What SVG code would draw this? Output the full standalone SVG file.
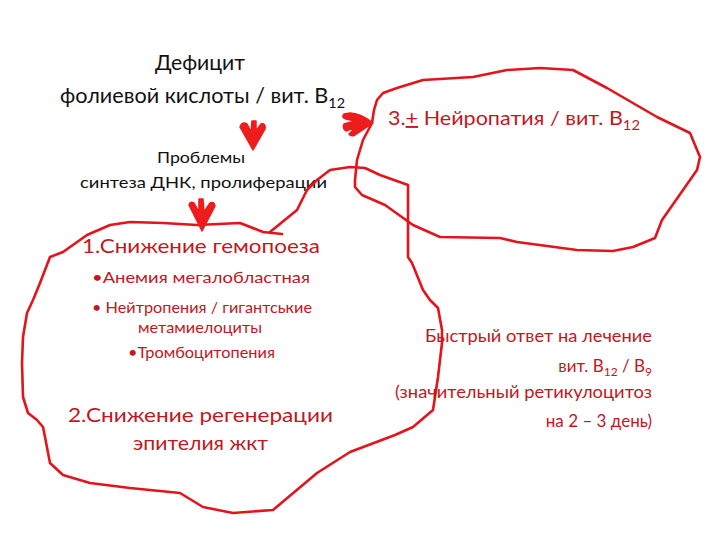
<svg xmlns="http://www.w3.org/2000/svg" width="720" height="540" viewBox="0 0 720 540">
<style>
.blob{fill:none;stroke:#e3141c;stroke-width:2.6;stroke-linejoin:round;stroke-linecap:round}
.arr{fill:#ee1c1c;stroke:#ee1c1c;stroke-width:1.5;stroke-linejoin:round}
.t{font-family:Lato,"Liberation Sans","Noto Sans",sans-serif}
.k{fill:#111}
.r{fill:#c4161c}
</style>
<rect width="720" height="540" fill="#fff"/>
<g id="deficit">
<text class="t k" x="200" y="70" font-size="21" text-anchor="middle" textLength="90" lengthAdjust="spacingAndGlyphs">Дефицит</text>
<text class="t k" x="60" y="103" font-size="21" textLength="285" lengthAdjust="spacingAndGlyphs">фолиевой кислоты / вит. B<tspan font-size="14" dy="5">12</tspan></text>
</g>
<g id="problems">
<text class="t k" x="201" y="163" font-size="16" text-anchor="middle" textLength="88" lengthAdjust="spacingAndGlyphs">Проблемы</text>
<text class="t k" x="80" y="188" font-size="16" textLength="247" lengthAdjust="spacingAndGlyphs">синтеза  ДНК, пролиферации</text>
</g>
<g id="neuropathy">
<path class="blob" d="M374,110 L377,100 L383,93 L397,88 L423,80 L473,77 L507,70 L540,68 L573,70 L607,88 L657,117 L690,133 L700,157 L697,170 L683,190 L662,220 L655,238 L633,247 L613,251 L577,250 L517,242 L500,238 L440,237 L413,225 L385,205 L362,195 L355,187 L355,180 L357,160 L363,140 L372,123 Z"/>
<text class="t r" x="388" y="125" font-size="19" textLength="252" lengthAdjust="spacingAndGlyphs">3.<tspan text-decoration="underline">+</tspan> Нейропатия / вит. B<tspan font-size="13" dy="5">12</tspan></text>
</g>
<g id="hematopoiesis">
<path class="blob" d="M282,234 L263,232 L240,223 L197,225 L163,223 L130,222 L110,225 L87,235 L63,252 L50,257 L40,283 L33,300 L27,313 L23,337 L22,363 L23,397 L28,413 L37,420 L43,427 L45,437 L50,463 L63,475 L90,483 L130,488 L180,493 L203,507 L233,513 L273,510 L317,473 L350,452 L395,435 L413,427 L433,410 L438,377 L442,343 L442,330 L438,308 L430,300 L423,290 L412,263 L408,257 L408,185 L380,175 L365,168 L350,167 L330,170 L317,180 L307,190 L297,210 L270,232"/>
<text class="t r" x="82" y="253" font-size="20" textLength="238" lengthAdjust="spacingAndGlyphs">1.Снижение  гемопоеза</text>
<text class="t r" x="92" y="283" font-size="16" textLength="218" lengthAdjust="spacingAndGlyphs">•Анемия  мегалобластная</text>
<text class="t r" x="92" y="313" font-size="15" textLength="220" lengthAdjust="spacingAndGlyphs">• Нейтропения / гигантськие</text>
<text class="t r" x="200" y="333" font-size="15" text-anchor="middle" textLength="124" lengthAdjust="spacingAndGlyphs">метамиелоциты</text>
<text class="t r" x="128" y="358" font-size="15" textLength="147" lengthAdjust="spacingAndGlyphs">•Тромбоцитопения</text>
<text class="t r" x="68" y="422" font-size="20" textLength="265" lengthAdjust="spacingAndGlyphs">2.Снижение  регенерации</text>
<text class="t r" x="133" y="450" font-size="20" textLength="135" lengthAdjust="spacingAndGlyphs">эпителия жкт</text>
</g>
<g id="response">
<text class="t r" x="652" y="342" font-size="17" text-anchor="end" textLength="227" lengthAdjust="spacingAndGlyphs">Быстрый ответ на  лечение</text>
<text class="t r" x="652" y="372" font-size="17" text-anchor="end">вит. B<tspan font-size="12" dy="4">12</tspan><tspan dy="-4"> / B</tspan><tspan font-size="12" dy="4">9</tspan></text>
<text class="t r" x="652" y="398" font-size="17" text-anchor="end" textLength="257" lengthAdjust="spacingAndGlyphs">(значительный ретикулоцитоз</text>
<text class="t r" x="652" y="427" font-size="17" text-anchor="end">на 2 – 3 день)</text>
</g>
<g id="connectors">
<path class="arr" d="M240,127 Q242,121 247,124 L251,132 L252,121 L256,121 L256,131 L261,124 Q266,123 265,129 L253,150 Z"/>
<path class="arr" d="M189,205 Q190,201 194,203 L199,212 L199,199 L203,199 L204,212 L210,203 Q214,201 215,206 L202,231 Z"/>
<path class="arr" d="M344,114 Q341,118 346,119 L355,121 L344,124 Q342,128 346,131 L356,127 L349,134 Q351,137 355,135 L373,123 Q360,113 350,113 Z"/>
</g>
</svg>
